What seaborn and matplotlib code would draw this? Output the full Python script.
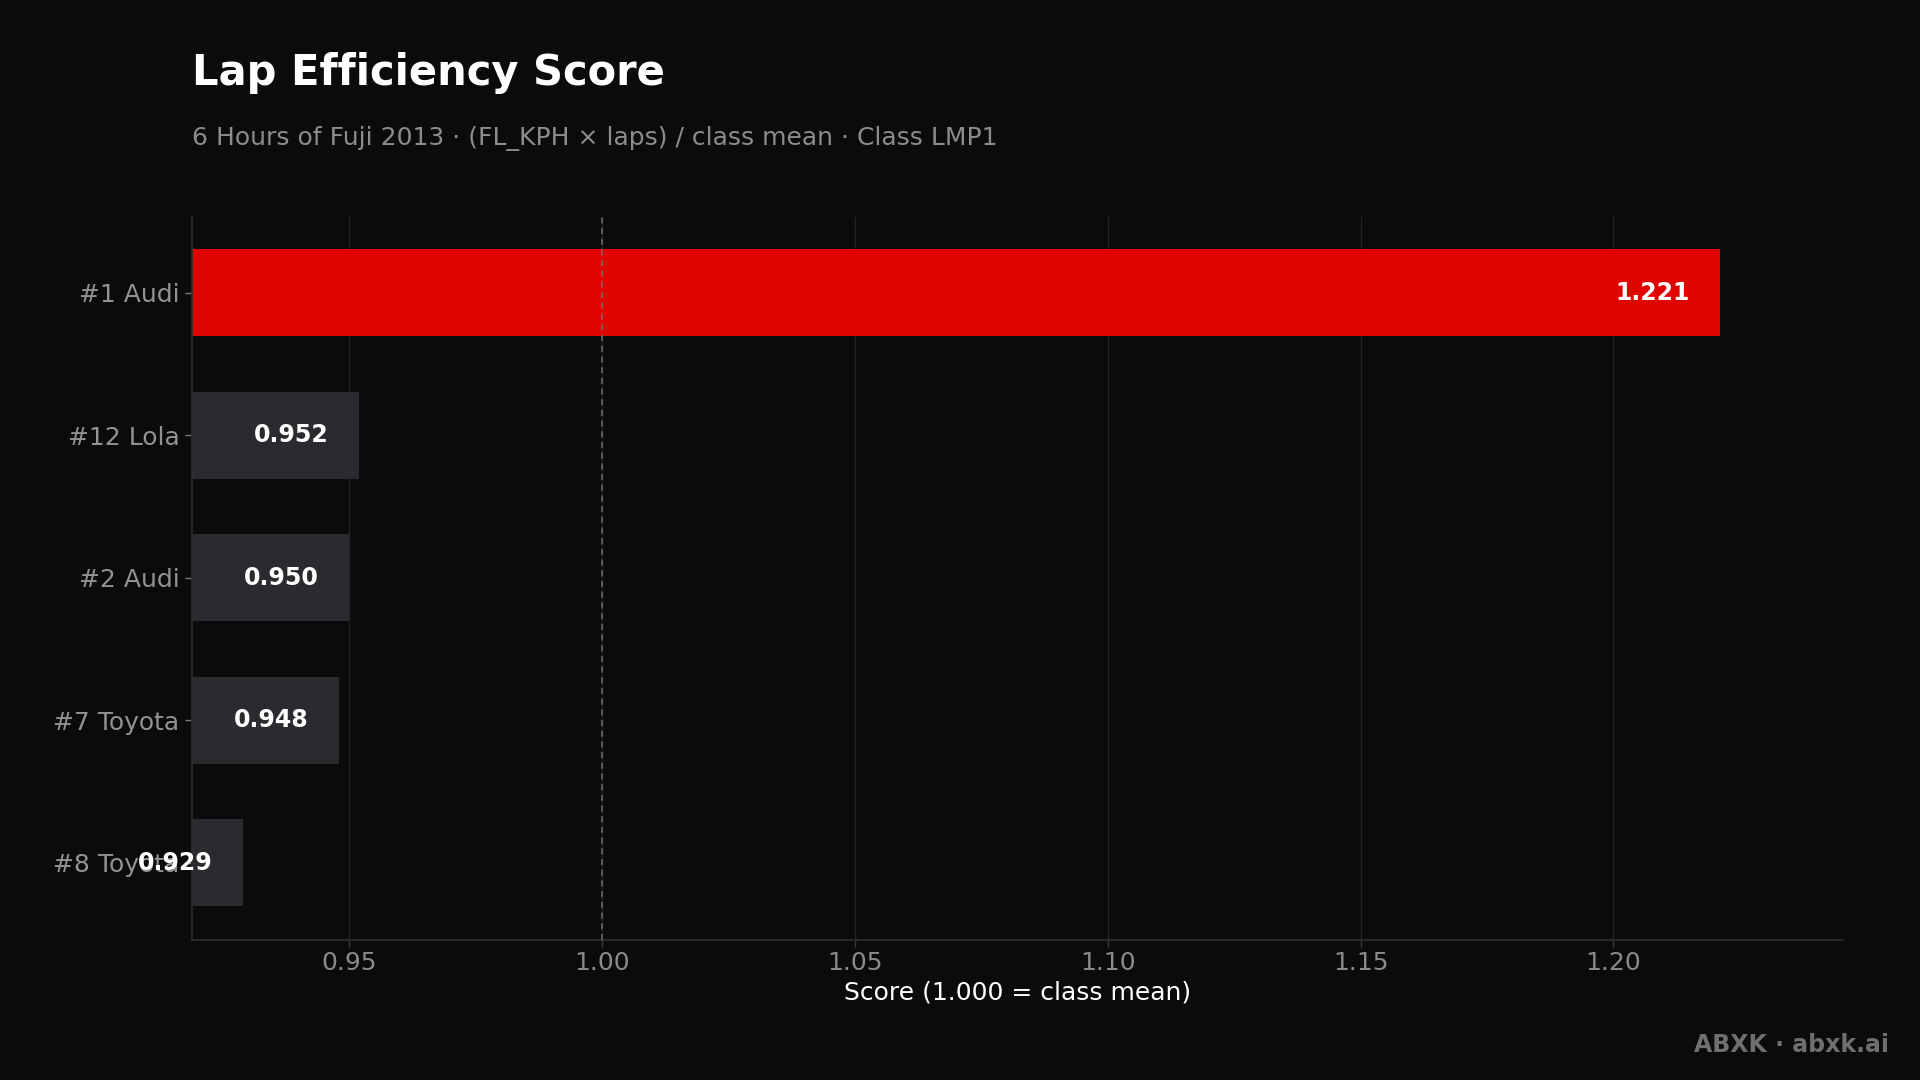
import pandas as pd
import seaborn as sns
import numpy as np
import matplotlib.pyplot as plt

# ---------- data ----------
cars = ['#1 Audi', '#12 Lola', '#2 Audi', '#7 Toyota', '#8 Toyota']
scores = [1.221, 0.952, 0.950, 0.948, 0.929]
bar_colors = ['#e00400', '#2b2a2f', '#2b2a2f', '#2b2a2f', '#2b2a2f']
xticks = [0.95, 1.00, 1.05, 1.10, 1.15, 1.20]

df = pd.DataFrame({'car': cars, 'score': scores})

BG = '#0b0b0c'

sns.set_style('dark')
plt.rcParams['font.family'] = ['DejaVu Sans']

fig, ax = plt.subplots(figsize=(19.2, 10.8), dpi=100)
fig.patch.set_facecolor(BG)
ax.set_facecolor(BG)
fig.subplots_adjust(left=0.1, right=0.96, top=0.799, bottom=0.13)

# grid + reference line first so bars sit on top
for t in xticks:
    ax.axvline(t, color='#232325', lw=1, zorder=0)
ax.axvline(1.0, color='#6e6e70', lw=1.1, ls=(0, (4, 3)), zorder=3)

sns.barplot(data=df, y='car', x='score', hue='car', palette=bar_colors,
            orient='h', width=0.61, legend=False, ax=ax, zorder=2,
            saturation=1, linewidth=0, edgecolor='none')

ax.set_xlim(min(scores) - 0.01, max(scores) * 1.02)
ax.set_ylim(4.54, -0.53)
ax.set_xticks(xticks)
ax.set_xticklabels([f'{t:.2f}' for t in xticks])

# value labels inside bar ends
for i, v in enumerate(scores):
    ax.annotate(f'{v:.3f}', xy=(v, i), xytext=(-30, 0), textcoords='offset pixels',
                ha='right', va='center', color='white', fontsize=17,
                fontweight='bold', zorder=5)

ax.tick_params(axis='y', colors='#7a7a7a', labelcolor='#929292', labelsize=18,
               length=5, width=1, pad=4, left=True)
ax.tick_params(axis='x', colors='#3a3a3c', labelcolor='#8a8a8a', labelsize=18,
               length=5, width=1, pad=3, bottom=True)
ax.set_ylabel('')
ax.set_xlabel('Score (1.000 = class mean)', color='white', fontsize=18, labelpad=4)

for s in ['top', 'right']:
    ax.spines[s].set_visible(False)
for s in ['left', 'bottom']:
    ax.spines[s].set_visible(True)
    ax.spines[s].set_color('#2e2e30')
    ax.spines[s].set_linewidth(1.2)

# titles
fig.text(0.1, 0.932, 'Lap Efficiency Score', color='white', fontsize=30,
         fontweight='bold', ha='left', va='center')
fig.text(0.1, 0.872, '6 Hours of Fuji 2013 \u00b7 (FL_KPH \u00d7 laps) / class mean \u00b7 Class LMP1',
         color='#8c8c8c', fontsize=18, ha='left', va='center')

# footer
fig.text(0.984, 0.032, 'ABXK \u00b7 abxk.ai', color='#6f6f6f', fontsize=17,
         fontweight='bold', ha='right', va='center')

fig.savefig('out.png', dpi=100, facecolor=BG)
